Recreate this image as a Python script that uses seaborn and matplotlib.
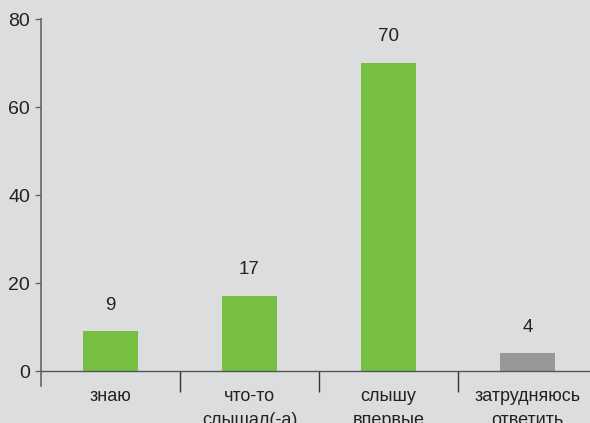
import matplotlib
matplotlib.use("Agg")
import matplotlib.pyplot as plt
import seaborn as sns
import pandas as pd

categories = ["знаю", "что-то\nслышал(-а)", "слышу\nвпервые", "затрудняюсь\nответить"]
values = [9, 17, 70, 4]
colors = ["#76bf43", "#76bf43", "#76bf43", "#98989a"]
yticks = [0, 20, 40, 60, 80]

bg = "#dcdddf"
sns.set_theme(style="white")
plt.rcParams["font.family"] = ["Liberation Sans", "DejaVu Sans"]

fig = plt.figure(figsize=(5.9, 4.23), dpi=100, facecolor=bg)
ax = fig.add_axes([0.0695, 0.0875, 0.9305, 0.8675])
ax.set_facecolor(bg)

df = pd.DataFrame({"cat": categories, "val": values})
sns.barplot(data=df, x="cat", y="val", hue="cat", palette=colors, legend=False,
            width=0.4, saturation=1, linewidth=0, edgecolor="none", ax=ax)

ax.set_xlim(-0.5, 3.45)
ax.set_ylim(-3.4, 80)
ax.set_yticks(yticks)
ax.set_xlabel("")
ax.set_ylabel("")

spine_c = "#666666"
for s in ["top", "right"]:
    ax.spines[s].set_visible(False)
ax.spines["left"].set_color(spine_c)
ax.spines["left"].set_linewidth(1.2)
ax.spines["bottom"].set_position(("data", 0))
ax.spines["bottom"].set_color("#555555")
ax.spines["bottom"].set_linewidth(1.0)

ax.tick_params(axis="y", left=True, length=4, width=1, color=spine_c,
               labelsize=14, pad=4, labelcolor="#222222")
ax.set_xticks(range(len(categories)))
ax.set_xticklabels(categories, fontsize=13, color="#222222", linespacing=1.55)
ax.tick_params(axis="x", which="major", bottom=True, length=0, pad=12)
ax.set_xticks([0.5, 1.5, 2.5], minor=True)
ax.tick_params(axis="x", which="minor", bottom=True, length=15, width=1,
               color="#333333", direction="out")

for i, v in enumerate(values):
    ax.annotate(str(v), (i, v), xytext=(0, 19), textcoords="offset points",
                ha="center", va="center", fontsize=13.5, color="#222222")

fig.savefig("out.png", dpi=100, facecolor=bg)
